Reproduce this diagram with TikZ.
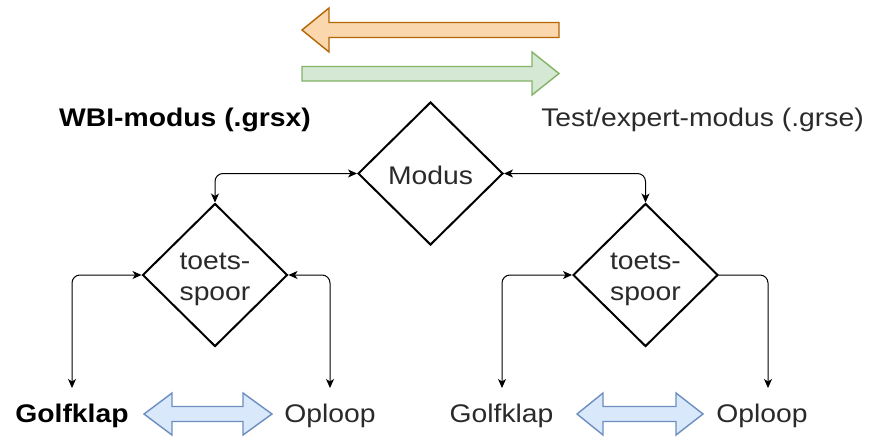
\documentclass[tikz,border=0pt]{standalone}
\usepackage{fontspec}
\setmainfont{Liberation Sans}[FakeStretch=1.11]
\usetikzlibrary{shapes.geometric,arrows.meta}
\definecolor{ofill}{HTML}{FAD7AC}\definecolor{ostroke}{HTML}{B46504}
\definecolor{gfill}{HTML}{D5E8D4}\definecolor{gstroke}{HTML}{82B366}
\definecolor{bfill}{HTML}{DAE8FC}\definecolor{bstroke}{HTML}{6C8EBF}
\definecolor{txt}{HTML}{2A2A2A}
\newcommand{\twoline}[2]{\raisebox{-4pt}[\height][\depth]{\begin{tabular}{@{}c@{}}#1\\#2\end{tabular}}}
\tikzset{
  dia/.style={diamond,aspect=1,draw=black,line width=2pt,inner sep=0pt,
    minimum width=145pt,minimum height=143pt,align=center,text=txt,
    font=\fontsize{25.5}{30.7}\selectfont},
  lbl/.style={inner sep=0pt,anchor=base,font=\fontsize{25.5}{30}\selectfont,text=txt},
  blbl/.style={lbl,text=black,font=\fontsize{25.5}{30}\selectfont\bfseries},
  conn/.style={draw=black,line width=1pt,rounded corners=8pt},
  ctip/.tip={Stealth[length=9pt,width=8pt,inset=2.5pt]},
  fatarrow/.style={line width=1.4pt,line join=miter}
}
\begin{document}
\begin{tikzpicture}[x=1pt,y=-1pt]
\useasboundingbox (0,0) rectangle (869,436);
% top fat arrows
\draw[fatarrow,draw=ostroke,fill=ofill] (302,30) -- (329,8) -- (329,22.5) -- (559,22.5) -- (559,37.5) -- (329,37.5) -- (329,52) -- cycle;
\draw[fatarrow,draw=gstroke,fill=gfill] (559,73.5) -- (532,52) -- (532,66.5) -- (302,66.5) -- (302,81) -- (532,81) -- (532,95) -- cycle;
% labels
\node[blbl] (wbi) at (185,126.7) {WBI-modus (.grsx)};
\node[lbl] (test) at (702.5,126.7) {Test/expert-modus (.grse)};
% diamonds
\node[dia] (modus) at (430.5,173.5) {\raisebox{-1.5pt}[\height][\depth]{Modus}};
\node[dia] (t1) at (215,275) {\twoline{toets-}{spoor}};
\node[dia] (t2) at (645.5,275) {\twoline{toets-}{spoor}};
% bottom labels
\node[blbl] (g1) at (72,422) {Golfklap};
\node[lbl] (o1) at (330,422) {Oploop};
\node[lbl] (g2) at (501.5,422) {Golfklap};
\node[lbl] (o2) at (762,422) {Oploop};
\coordinate (g1t) at (72,388);
\coordinate (o1t) at (330,388);
\coordinate (g2t) at (502,388);
\coordinate (o2t) at (768,388);
% connectors
\draw[conn,ctip-ctip] (modus.west) -| (t1.north);
\draw[conn,ctip-ctip] (modus.east) -| (t2.north);
\draw[conn,ctip-ctip] (t1.west) -| (g1t);
\draw[conn,ctip-ctip] (t1.east) -| (o1t);
\draw[conn,ctip-ctip] (t2.west) -| (g2t);
\draw[conn,-ctip] (t2.east) -| (o2t);
% bottom double arrows
\draw[fatarrow,draw=bstroke,fill=bfill] (144,414) -- (172,393) -- (172,406.5) -- (243,406.5) -- (243,393) -- (272,414) -- (243,435) -- (243,421.5) -- (172,421.5) -- (172,435) -- cycle;
\draw[fatarrow,draw=bstroke,fill=bfill] (577,414) -- (603,393) -- (603,406.5) -- (676,406.5) -- (676,393) -- (703,414) -- (676,435) -- (676,421.5) -- (603,421.5) -- (603,435) -- cycle;
\end{tikzpicture}
\end{document}
